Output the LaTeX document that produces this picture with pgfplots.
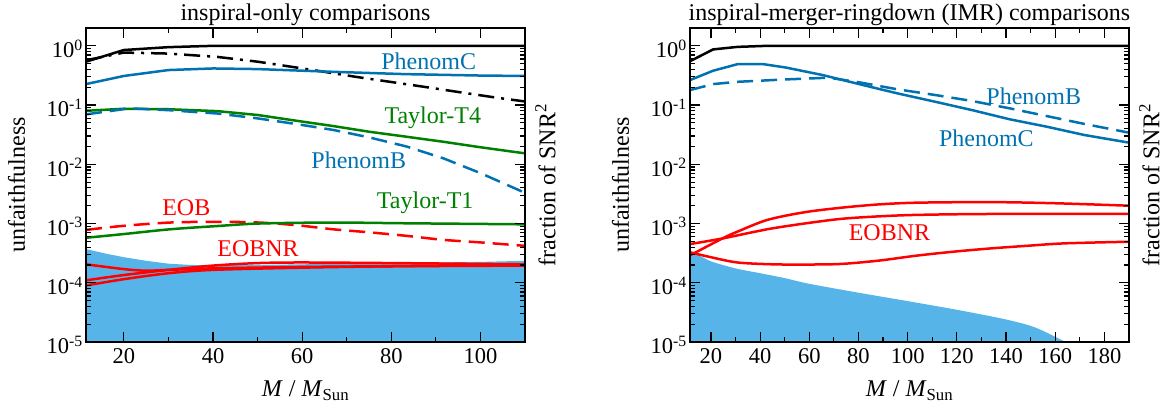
\documentclass[border=0pt]{standalone}
\usepackage{fontspec}
\setmainfont{Liberation Serif}
\usepackage{pgfplots}
\pgfplotsset{compat=1.18}

\definecolor{pblue}{RGB}{0,114,178}
\definecolor{pgreen}{RGB}{0,128,0}
\definecolor{pred}{RGB}{255,0,0}
\definecolor{pfill}{RGB}{86,180,233}

\newcommand{\lab}{\fontsize{24bp}{28bp}\selectfont}

\pgfplotsset{
  every axis/.append style={
    scale only axis,
    width=439bp, height=314bp,
    ymode=log, ymin=1e-5, ymax=2,
    ytick={1e-5,1e-4,1e-3,1e-2,1e-1,1},
    yticklabels={10\textsuperscript{-5},10\textsuperscript{-4},10\textsuperscript{-3},10\textsuperscript{-2},10\textsuperscript{-1},10\textsuperscript{0}},
    minor x tick num=1,
    tick align=inside, tick pos=both,
    major tick length=10bp, minor tick length=5bp,
    every tick/.style={black, line width=1.2bp},
    axis line style={line width=1.5bp},
    axis on top,
    clip mode=individual,
    /pgf/number format/assume math mode=true,
    tick label style={font=\fontsize{22.5bp}{26bp}\selectfont},
    yticklabel style={inner sep=0pt, xshift=-3bp, yshift=-3bp},
    xticklabel style={yshift=-3bp},
    label style={font=\lab},
    title style={font=\lab, at={(axis description cs:0.5,1)}, anchor=base, inner sep=0pt, yshift=2bp},
    ylabel={unfaithfulness},
    ylabel style={at={(axis description cs:-0.139,0.5)}, anchor=base, inner sep=0pt},
    xlabel={\textit{M} / \textit{M}\textsubscript{Sun}},
    xlabel style={at={(axis description cs:0.5,-0.175)}, anchor=base, inner sep=0pt},
  },
  every axis plot/.append style={line width=2.5bp},
}
\tikzset{
  dashd/.style={dash pattern=on 16bp off 8bp},
  dashdot/.style={dash pattern=on 16bp off 7bp on 3bp off 7bp},
}

\begin{document}
\begin{tikzpicture}
\path[use as bounding box] (-86bp,-67bp) rectangle (1080bp,342bp);

% inspiral-only
\begin{axis}[at={(0bp,0bp)}, anchor=south west,
  xmin=11.5, xmax=110, xtick={20,40,60,80,100},
  title={inspiral-only comparisons}]
\addplot[fill=pfill, draw=none] coordinates {
(11.5,1e-5) (11.5,3.7e-4) (16,3.1e-4) (20,2.7e-4) (25,2.35e-4) (30,2.1e-4)
(35,2.0e-4) (40,1.97e-4) (50,2.0e-4) (60,2.05e-4) (80,2.15e-4) (100,2.25e-4)
(110,2.35e-4) (110,1e-5)} -- cycle;

\addplot[black] coordinates {(11.5,0.54) (20,0.85) (30,0.95) (40,1.0) (110,1.0)};
\addplot[black, dashdot] coordinates {
(11.5,0.57) (20,0.77) (30,0.74) (41,0.65) (50,0.54) (57,0.45) (64.4,0.37)
(72,0.30) (80,0.245) (88,0.20) (96,0.162) (104,0.132) (110,0.115)};
\addplot[pblue] coordinates {
(11.5,0.226) (20,0.31) (30,0.39) (40,0.415) (50,0.405) (67,0.364) (83,0.333)
(100,0.315) (110,0.31)};
\addplot[pgreen] coordinates {
(11.5,0.080) (20,0.0867) (30,0.085) (41,0.079) (50,0.068) (58.6,0.0545)
(67,0.0442) (75,0.0355) (83.4,0.0292) (91.7,0.024) (100,0.0194) (110,0.0153)};
\addplot[pblue, dashd] coordinates {
(11.5,0.0697) (21.3,0.088) (30,0.082) (41,0.072) (50,0.0596) (58.6,0.0479)
(67,0.038) (75,0.0285) (83.4,0.020) (91.7,0.0126) (100,0.0071) (110,0.0033)};
\addplot[pred, dashd, smooth] coordinates {
(11.5,7.8e-4) (19.6,9.1e-4) (30.4,1.04e-3) (41.2,1.07e-3) (50.3,1.04e-3)
(58.6,9.4e-4) (66.9,8.0e-4) (75.1,7.1e-4) (83.4,6.2e-4) (91.7,5.3e-4)
(100,4.8e-4) (110,4.2e-4)};
\addplot[pgreen, smooth] coordinates {
(11.5,5.75e-4) (19.6,6.6e-4) (30.4,8.0e-4) (41.2,9.1e-4) (50.3,1.0e-3)
(66.9,1.04e-3) (83.4,1.01e-3) (110,9.7e-4)};
\addplot[pred, smooth] coordinates {
(11.5,2.05e-4) (20,1.7e-4) (25,1.6e-4) (30,1.65e-4) (40,1.75e-4) (60,1.85e-4)
(80,1.9e-4) (110,1.95e-4)};
\addplot[pred, smooth] coordinates {
(11.5,1.1e-4) (20,1.35e-4) (30,1.65e-4) (40,1.95e-4) (50,2.15e-4) (60,2.2e-4)
(80,2.15e-4) (110,2.05e-4)};
\addplot[pred, smooth] coordinates {
(11.5,0.9e-4) (20,1.15e-4) (30,1.45e-4) (40,1.65e-4) (60,1.8e-4) (80,1.9e-4)
(110,2.0e-4)};

\node[pblue, font=\lab] at (axis cs:88.4,0.54) {PhenomC};
\node[pgreen, font=\lab] at (axis cs:89.3,0.06) {Taylor-T4};
\node[pblue, font=\lab] at (axis cs:72.7,0.0118) {PhenomB};
\node[pgreen, font=\lab] at (axis cs:87.6,2.25e-3) {Taylor-T1};
\node[pred, font=\lab] at (axis cs:34,1.86e-3) {EOB};
\node[pred, font=\lab] at (axis cs:50.1,3.7e-4) {EOBNR};
\node[font=\lab, rotate=90, anchor=north, inner sep=0pt] at ([xshift=10bp]rel axis cs:1,0.5) {fraction of SNR\textsuperscript{2}};
\end{axis}

% IMR
\begin{axis}[at={(604bp,0bp)}, anchor=south west,
  xmin=11.5, xmax=190, xtick={20,40,...,180},
  title={inspiral-merger-ringdown (IMR) comparisons}]
\addplot[fill=pfill, draw=none, smooth] coordinates {
(11.5,2.8e-4) (14,3.05e-4) (20,2.3e-4) (30,1.75e-4) (40,1.45e-4)
(50,1.2e-4) (60,9.6e-5) (80,6.8e-5) (100,4.9e-5) (120,3.5e-5)
(140,2.4e-5) (152,1.75e-5) (164.2,1e-5)} -- (axis cs:11.5,1e-5) -- cycle;

\addplot[black] coordinates {(11.5,0.55) (20.9,0.87) (30.8,0.96) (42.9,1.0) (190,1.0)};
\addplot[pblue] coordinates {
(11.5,0.264) (20.9,0.38) (30.8,0.49) (41.4,0.49) (50.5,0.43) (65.6,0.32)
(80.8,0.223) (96,0.157) (111.1,0.114) (126.3,0.082) (141.5,0.0575)
(156.7,0.043) (171.9,0.0312) (190,0.0232)};
\addplot[pblue, dashd] coordinates {
(11.5,0.179) (20.9,0.226) (30.8,0.247) (50.5,0.271) (68,0.29) (80.8,0.24)
(96,0.184) (111.1,0.148) (126.3,0.117) (141.5,0.088) (156.7,0.065)
(171.9,0.048) (190,0.0342)};
\addplot[pred, smooth] coordinates {
(11.5,2.9e-4) (24.7,5.6e-4) (30.8,7.3e-4) (42.9,1.15e-3) (58,1.55e-3)
(73,1.85e-3) (88,2.1e-3) (104,2.25e-3) (134,2.3e-3) (160,2.2e-3) (190,2.0e-3)};
\addplot[pred, smooth] coordinates {
(11.5,4.5e-4) (24.7,5.6e-4) (42.9,8.0e-4) (58,1.0e-3) (73,1.2e-3) (88,1.32e-3)
(104,1.4e-3) (134,1.45e-3) (190,1.45e-3)};
\addplot[pred, smooth] coordinates {
(11.5,3.27e-4) (20,2.7e-4) (30.8,2.2e-4) (45,2.05e-4) (58,2.03e-4)
(73,2.08e-4) (88.4,2.37e-4) (103.6,2.87e-4) (118.7,3.35e-4) (134,3.81e-4)
(149,4.22e-4) (164,4.63e-4) (190,4.93e-4)};

\node[pblue, font=\lab] at (axis cs:151.3,0.138) {PhenomB};
\node[pblue, font=\lab] at (axis cs:132,0.0274) {PhenomC};
\node[pred, font=\lab] at (axis cs:92.6,7.1e-4) {EOBNR};
\node[font=\lab, rotate=90, anchor=north, inner sep=0pt] at ([xshift=10bp]rel axis cs:1,0.5) {fraction of SNR\textsuperscript{2}};
\end{axis}
\end{tikzpicture}
\end{document}
